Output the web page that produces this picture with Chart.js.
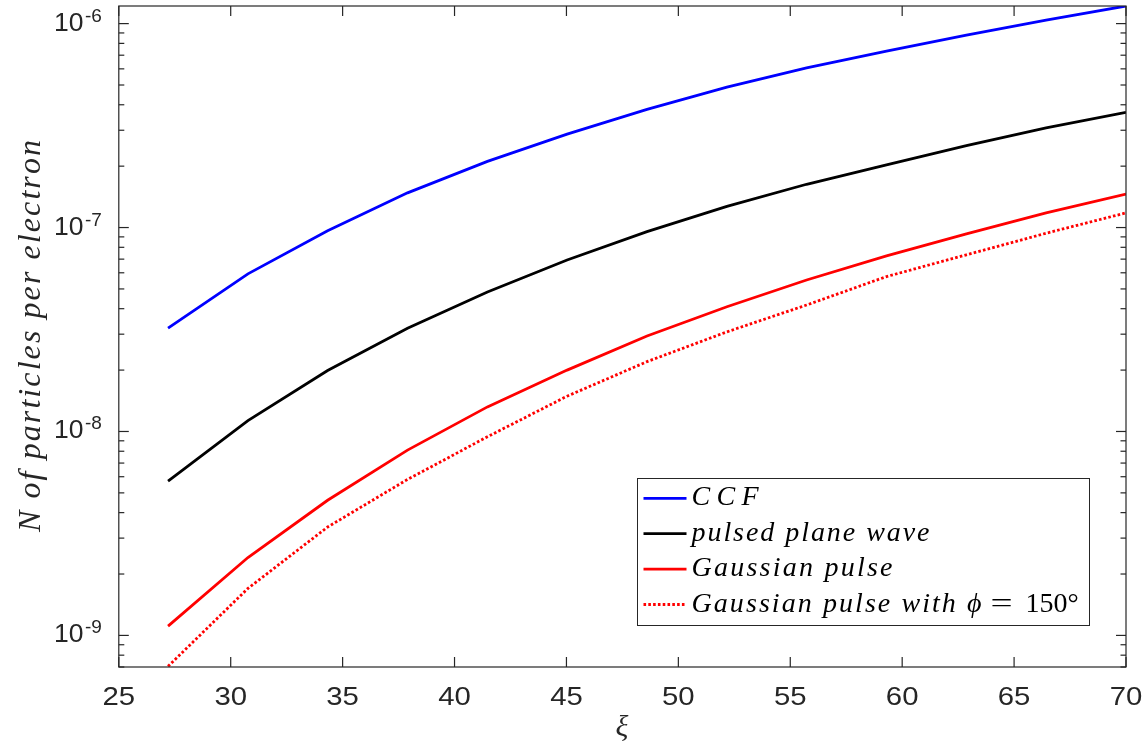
<!DOCTYPE html>
<html>
<head>
<meta charset="utf-8">
<title>Particles per electron vs xi</title>
<script src="https://cdn.jsdelivr.net/npm/chart.js@4.4.1/dist/chart.umd.min.js"></script>
<style>
  html, body { margin: 0; padding: 0; background: #ffffff; }
  #wrap { width: 1143px; height: 745px; }
</style>
</head>
<body>
<div id="wrap"><canvas id="yieldChart" width="1143" height="745"></canvas></div>
<script>
// xi grid shared by all curves
const xi = [27.2, 30.77, 34.33, 37.9, 41.47, 45.03, 48.6, 52.17, 55.73, 59.3, 62.87, 66.43, 70];

// number of produced particles per electron
const ccf = [3.21e-8, 5.93e-8, 9.64e-8, 1.48e-7, 2.11e-7, 2.87e-7, 3.8e-7, 4.88e-7, 6.07e-7, 7.33e-7, 8.79e-7, 1.04e-6, 1.22e-6];
const pulsedPlaneWave = [5.71e-9, 1.13e-8, 1.99e-8, 3.21e-8, 4.83e-8, 6.93e-8, 9.55e-8, 1.27e-7, 1.63e-7, 2.03e-7, 2.52e-7, 3.08e-7, 3.67e-7];
const gaussianPulse = [1.11e-9, 2.41e-9, 4.6e-9, 8.1e-9, 1.32e-8, 2.0e-8, 2.94e-8, 4.09e-8, 5.53e-8, 7.26e-8, 9.31e-8, 1.18e-7, 1.46e-7];
const gaussianPulsePhi = [7.05e-10, 1.70e-9, 3.4e-9, 5.82e-9, 9.42e-9, 1.49e-8, 2.2e-8, 3.08e-8, 4.17e-8, 5.75e-8, 7.35e-8, 9.38e-8, 1.18e-7];

const seriesLabels = ['CCF', 'pulsed plane wave', 'Gaussian pulse', 'Gaussian pulse with ϕ = 150°'];

// axis ticks
const xTicks = [25, 30, 35, 40, 45, 50, 55, 60, 65, 70];
const yDecades = [-9, -8, -7, -6];

const X_MIN = 25, X_MAX = 70;
const Y_MIN = 7e-10, Y_MAX = 1.22e-6;

const AXIS_COLOR = '#262626';
const SANS = '"Liberation Sans", Arial, Helvetica, sans-serif';
const SERIF = '"Liberation Serif", "Times New Roman", serif';

function toPoints(values) {
    return values.map((v, i) => ({ x: xi[i], y: v }));
}

// draws text one glyph at a time with extra tracking so it spans `target` pixels
function drawSpaced(ctx, text, x, y, target) {
    const chars = Array.from(text);
    let natural = 0;
    chars.forEach(c => { natural += ctx.measureText(c).width; });
    const gap = chars.length > 1 ? (target - natural) / (chars.length - 1) : 0;
    let cx = x;
    chars.forEach(c => {
        ctx.fillText(c, cx, y);
        cx += ctx.measureText(c).width + gap;
    });
    return cx - gap;
}

function strokeLine(ctx, x1, y1, x2, y2) {
    ctx.beginPath();
    ctx.moveTo(x1, y1);
    ctx.lineTo(x2, y2);
    ctx.stroke();
}

// box, inward ticks, tick labels, axis titles and legend
const matlabAxes = {
    id: 'matlabAxes',
    afterDraw(chart) {
        const ctx = chart.ctx;
        const a = chart.chartArea;
        const xs = chart.scales.x;
        const ys = chart.scales.y;

        ctx.save();
        ctx.strokeStyle = AXIS_COLOR;
        ctx.lineWidth = 1.2;
        ctx.strokeRect(a.left, a.top, a.right - a.left, a.bottom - a.top);

        // x ticks and labels
        ctx.fillStyle = AXIS_COLOR;
        ctx.textAlign = 'center';
        ctx.textBaseline = 'alphabetic';
        ctx.font = '25.5px ' + SANS;
        xTicks.forEach(v => {
            const px = xs.getPixelForValue(v);
            strokeLine(ctx, px, a.bottom, px, a.bottom - 10);
            strokeLine(ctx, px, a.top, px, a.top + 10);
            ctx.save();
            ctx.translate(px, 705);
            ctx.scale(1.15, 1);
            ctx.fillText(String(v), 0, 0);
            ctx.restore();
        });

        // y ticks: long at decades, short at 2..9
        for (let e = -10; e <= -6; e++) {
            for (let m = 1; m <= 9; m++) {
                const v = m * Math.pow(10, e);
                if (v < Y_MIN || v > Y_MAX) continue;
                const py = ys.getPixelForValue(v);
                const len = m === 1 ? 10 : 5.5;
                strokeLine(ctx, a.left, py, a.left + len, py);
                strokeLine(ctx, a.right, py, a.right - len, py);
            }
        }

        // y labels as 10 with a raised exponent
        ctx.textAlign = 'left';
        yDecades.forEach(e => {
            const py = ys.getPixelForValue(Math.pow(10, e));
            ctx.font = '26.5px ' + SANS;
            ctx.fillText('10', 54, py + 7);
            const w = ctx.measureText('10').width;
            ctx.font = '19px ' + SANS;
            ctx.fillText(String(e), 54 + w + 1.5, py - 2);
        });

        // y title
        ctx.save();
        ctx.translate(40, 532);
        ctx.rotate(-Math.PI / 2);
        ctx.font = 'italic 32px ' + SERIF;
        ctx.fillStyle = AXIS_COLOR;
        drawSpaced(ctx, 'N of particles per electron', 0, 0, 392);
        ctx.restore();

        // x title
        ctx.font = 'italic 30px ' + SERIF;
        ctx.textAlign = 'center';
        ctx.fillText('ξ', 622, 736);

        // legend
        const box = { left: 637.5, top: 478.5, right: 1089.5, bottom: 625.5 };
        ctx.fillStyle = '#ffffff';
        ctx.fillRect(box.left, box.top, box.right - box.left, box.bottom - box.top);
        ctx.strokeStyle = AXIS_COLOR;
        ctx.lineWidth = 1;
        ctx.strokeRect(box.left, box.top, box.right - box.left, box.bottom - box.top);

        const rowWidths = [67, 238, 201, 290];
        chart.data.datasets.forEach((ds, i) => {
            const ly = 498.3 + i * 35.4;
            ctx.save();
            ctx.strokeStyle = ds.borderColor;
            ctx.lineWidth = ds.borderWidth;
            ctx.setLineDash(ds.borderDash || []);
            strokeLine(ctx, 643.5, ly, 686.5, ly);
            ctx.restore();

            ctx.fillStyle = '#000000';
            ctx.textAlign = 'left';
            ctx.font = 'italic 28px ' + SERIF;
            const parts = ds.label.split(' = ');
            const end = drawSpaced(ctx, parts[0], 691.5, ly + 7, rowWidths[i]);
            if (parts.length > 1) {
                ctx.font = '28px ' + SERIF;
                ctx.save();
                ctx.translate(end + 9, ly + 7);
                ctx.scale(1.4, 1);
                ctx.fillText('=', 0, 0);
                ctx.restore();
                ctx.fillText(parts[1], end + 44, ly + 7);
            }
        });

        ctx.restore();
    }
};

const ctx = document.getElementById('yieldChart').getContext('2d');

new Chart(ctx, {
    type: 'line',
    data: {
        datasets: [
            {
                label: seriesLabels[0],
                data: toPoints(ccf),
                borderColor: '#0000ff',
                borderWidth: 2.8
            },
            {
                label: seriesLabels[1],
                data: toPoints(pulsedPlaneWave),
                borderColor: '#000000',
                borderWidth: 2.8
            },
            {
                label: seriesLabels[2],
                data: toPoints(gaussianPulse),
                borderColor: '#ff0000',
                borderWidth: 2.8
            },
            {
                label: seriesLabels[3],
                data: toPoints(gaussianPulsePhi),
                borderColor: '#ff0000',
                borderWidth: 2.8,
                borderDash: [2.6, 2.2]
            }
        ]
    },
    options: {
        responsive: false,
        animation: false,
        devicePixelRatio: 1,
        elements: {
            line: { tension: 0, fill: false, borderCapStyle: 'butt' },
            point: { radius: 0, hoverRadius: 0 }
        },
        layout: {
            padding: { left: 0, top: 6, right: 17, bottom: 0 }
        },
        scales: {
            x: {
                type: 'linear',
                min: X_MIN,
                max: X_MAX,
                grid: { display: false },
                border: { display: false },
                ticks: { display: false, stepSize: 5 },
                afterFit: scale => { scale.height = 78; }
            },
            y: {
                type: 'logarithmic',
                min: Y_MIN,
                max: Y_MAX,
                grid: { display: false },
                border: { display: false },
                ticks: { display: false },
                afterFit: scale => { scale.width = 118.8; }
            }
        },
        plugins: {
            legend: { display: false },
            tooltip: { enabled: false }
        }
    },
    plugins: [matlabAxes]
});
</script>
</body>
</html>
